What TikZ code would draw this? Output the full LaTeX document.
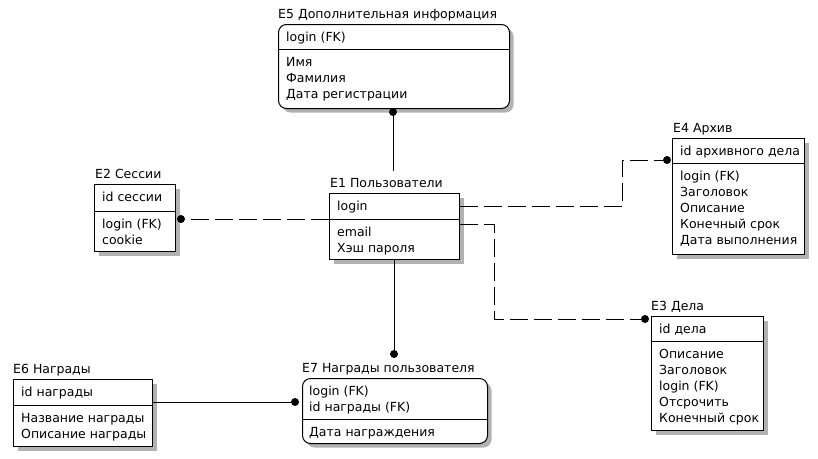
\documentclass[tikz,border=0pt]{standalone}
\usepackage{fontspec}
\setmainfont{DejaVu Sans}
\usetikzlibrary{calc,shadows}
\begin{document}
\begin{tikzpicture}[x=1pt,y=-1pt,
  every node/.style={font=\fontsize{12.5}{16}\selectfont},
  ebox/.style={draw=black, line width=1pt, fill=white, anchor=north west, inner sep=0pt,
    drop shadow={shadow xshift=4pt, shadow yshift=-4pt, opacity=1, fill=gray!60}},
  dbox/.style={ebox, rounded corners=8pt},
  divline/.style={line width=1pt},
  ttl/.style={anchor=base west, inner sep=0pt},
  txt/.style={anchor=base west, inner sep=0pt},
  dot/.style={circle, fill=black, inner sep=0pt, minimum size=8pt},
  rel/.style={line width=1pt},
  idrel/.style={line width=1pt, dash pattern=on 18pt off 6pt}]
\useasboundingbox (0,0) rectangle (818,458);

% ---------- E5 ----------
\node[dbox, minimum width=231pt, minimum height=84pt] (e5) at (278,24) {};
\draw[divline] ($(e5.north west)+(0,25)$) -- ($(e5.north east)+(0,25)$);
\node[ttl] (e5t) at (278,18) {E5 Дополнительная информация};
\node[txt] (e5k) at (286,41) {login (FK)};
\node[txt] (e5a) at (286,66) {Имя};
\node[txt] (e5b) at (286,82) {Фамилия};
\node[txt] (e5c) at (286,98) {Дата регистрации};

% ---------- E1 ----------
\node[ebox, minimum width=130pt, minimum height=66pt] (e1) at (329,193) {};
\draw[divline] ($(e1.north west)+(0,26)$) -- ($(e1.north east)+(0,26)$);
\node[ttl] (e1t) at (330,187) {E1 Пользователи};
\node[txt] (e1k) at (337,210) {login};
\node[txt] (e1a) at (337,236) {email};
\node[txt] (e1b) at (337,252) {Хэш пароля};

% ---------- E2 ----------
\node[ebox, minimum width=81pt, minimum height=67pt] (e2) at (94,184) {};
\draw[divline] ($(e2.north west)+(0,27)$) -- ($(e2.north east)+(0,27)$);
\node[ttl] (e2t) at (95,178) {E2 Сессии};
\node[txt] (e2k) at (102,201) {id сессии};
\node[txt] (e2a) at (102,228) {login (FK)};
\node[txt] (e2b) at (102,244) {cookie};

% ---------- E4 ----------
\node[ebox, minimum width=132pt, minimum height=116pt] (e4) at (672,138) {};
\draw[divline] ($(e4.north west)+(0,25)$) -- ($(e4.north east)+(0,25)$);
\node[ttl] (e4t) at (673,132) {E4 Архив};
\node[txt] (e4k) at (680,155) {id архивного дела};
\node[txt] (e4a) at (680,180) {login (FK)};
\node[txt] (e4b) at (680,196) {Заголовок};
\node[txt] (e4c) at (680,212) {Описание};
\node[txt] (e4d) at (680,228) {Конечный срок};
\node[txt] (e4e) at (680,244) {Дата выполнения};

% ---------- E3 ----------
\node[ebox, minimum width=112pt, minimum height=114pt] (e3) at (651,316) {};
\draw[divline] ($(e3.north west)+(0,25)$) -- ($(e3.north east)+(0,25)$);
\node[ttl] (e3t) at (651,310) {E3 Дела};
\node[txt] (e3k) at (659,333) {id дела};
\node[txt] (e3a) at (659,358) {Описание};
\node[txt] (e3b) at (659,374) {Заголовок};
\node[txt] (e3c) at (659,390) {login (FK)};
\node[txt] (e3d) at (659,406) {Отсрочить};
\node[txt] (e3e) at (659,422) {Конечный срок};

% ---------- E6 ----------
\node[ebox, minimum width=139pt, minimum height=67pt] (e6) at (13,379) {};
\draw[divline] ($(e6.north west)+(0,26)$) -- ($(e6.north east)+(0,26)$);
\node[ttl] (e6t) at (13,373) {E6 Награды};
\node[txt] (e6k) at (21,396) {id награды};
\node[txt] (e6a) at (21,422) {Название награды};
\node[txt] (e6b) at (21,438) {Описание награды};

% ---------- E7 ----------
\node[dbox, minimum width=185pt, minimum height=65pt] (e7) at (302,378) {};
\draw[divline] ($(e7.north west)+(0,41)$) -- ($(e7.north east)+(0,41)$);
\node[ttl] (e7t) at (302,372) {E7 Награды пользователя};
\node[txt] (e7k) at (309,395) {login (FK)};
\node[txt] (e7a) at (309,411) {id награды (FK)};
\node[txt] (e7b) at (309,436) {Дата награждения};

% ---------- connector end dots ----------
\node[dot] (d5) at (393,112) {};
\node[dot] (d7) at (394,354) {};
\node[dot] (d2) at (181,219) {};
\node[dot] (d4) at (667,160) {};
\node[dot] (d3) at (645,319) {};
\node[dot] (d6) at (295,402) {};

% ---------- connectors ----------
\coordinate (e1top) at (393,171);
\draw[rel] (d5) -- (e1top);
\draw[rel] (e1.south -| d7) -- (d7);
\draw[idrel] (e1.west |- d2) -- (d2);
\draw[idrel] ([yshift=20pt]e1.east) -| ($(d4)+(-45,0)$) -- (d4);
\draw[idrel] ([yshift=2pt]e1.east) -| ($(d3)+(-151,0)$) -- (d3);
\draw[rel] (e6.east |- d6) -- (d6);
\end{tikzpicture}
\end{document}
